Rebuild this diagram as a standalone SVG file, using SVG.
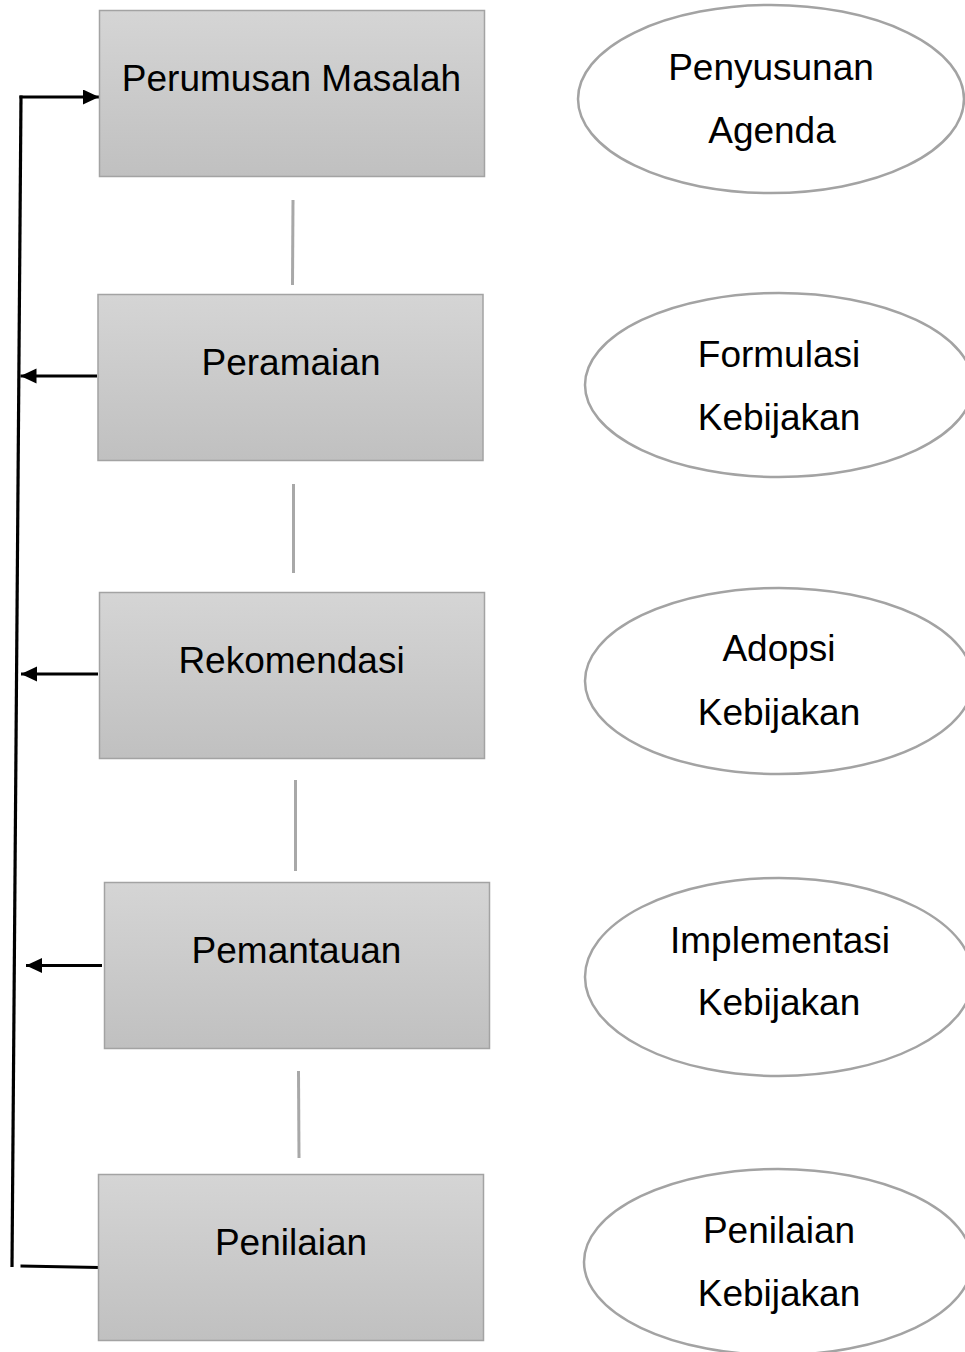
<svg xmlns="http://www.w3.org/2000/svg" width="965" height="1352" viewBox="0 0 965 1352">
  <defs>
    <linearGradient id="boxGrad" x1="0" y1="0" x2="0" y2="1">
      <stop offset="0" stop-color="#d5d5d5"/>
      <stop offset="1" stop-color="#c0c0c0"/>
    </linearGradient>
    <marker id="arrow" markerUnits="userSpaceOnUse" markerWidth="18" markerHeight="16" refX="16" refY="7.5" orient="auto">
      <path d="M0,0 L16,7.5 L0,15 z" fill="#000"/>
    </marker>
  </defs>
  <style>
    .box { fill: url(#boxGrad); stroke: #a3a3a3; stroke-width: 1.5; }
    .oval { fill: #ffffff; stroke: #a3a3a3; stroke-width: 2.5; }
    .lbl { font-family: "Liberation Sans", Arial, sans-serif; font-size: 37px; fill: #000; text-anchor: middle; }
    .gline { stroke: #a8a8a8; stroke-width: 3; fill: none; }
    .bline { stroke: #000; stroke-width: 3.2; fill: none; }
  </style>
  <rect width="965" height="1352" fill="#ffffff"/>

  <g id="connectors">
    <line class="gline" x1="293" y1="200" x2="292.5" y2="285"/>
    <line class="gline" x1="293.5" y1="484" x2="293.5" y2="573"/>
    <line class="gline" x1="295.5" y1="780" x2="295.5" y2="871"/>
    <line class="gline" x1="298.5" y1="1071" x2="299" y2="1158"/>
    <line class="bline" x1="21" y1="95.5" x2="12" y2="1267"/>
    <polyline class="bline" points="19.5,97 99,97" marker-end="url(#arrow)"/>
    <line class="bline" x1="97" y1="376" x2="20.5" y2="376" marker-end="url(#arrow)"/>
    <line class="bline" x1="98" y1="674" x2="21" y2="674" marker-end="url(#arrow)"/>
    <line class="bline" x1="102" y1="965.5" x2="26" y2="965.5" marker-end="url(#arrow)"/>
    <line class="bline" x1="20.5" y1="1266" x2="99" y2="1267.5"/>
  </g>

  <g id="node-perumusan">
    <rect class="box" x="99.5" y="10.5" width="385" height="166"/>
    <text class="lbl" x="291.5" y="91">Perumusan Masalah</text>
  </g>
  <g id="node-peramaian">
    <rect class="box" x="98" y="294.5" width="385" height="166"/>
    <text class="lbl" x="291" y="374.5">Peramaian</text>
  </g>
  <g id="node-rekomendasi">
    <rect class="box" x="99.5" y="592.5" width="385" height="166"/>
    <text class="lbl" x="291.5" y="673">Rekomendasi</text>
  </g>
  <g id="node-pemantauan">
    <rect class="box" x="104.5" y="882.5" width="385" height="166"/>
    <text class="lbl" x="296.5" y="963">Pemantauan</text>
  </g>
  <g id="node-penilaian">
    <rect class="box" x="98.5" y="1174.5" width="385" height="166"/>
    <text class="lbl" x="291" y="1255">Penilaian</text>
  </g>

  <g id="oval-agenda">
    <ellipse class="oval" cx="771" cy="99" rx="193" ry="94"/>
    <text class="lbl" x="771" y="80">Penyusunan</text>
    <text class="lbl" x="772" y="143">Agenda</text>
  </g>
  <g id="oval-formulasi">
    <ellipse class="oval" cx="779" cy="385" rx="194" ry="92"/>
    <text class="lbl" x="779" y="367">Formulasi</text>
    <text class="lbl" x="779" y="430">Kebijakan</text>
  </g>
  <g id="oval-adopsi">
    <ellipse class="oval" cx="779" cy="681" rx="194" ry="93"/>
    <text class="lbl" x="779" y="661">Adopsi</text>
    <text class="lbl" x="779" y="725">Kebijakan</text>
  </g>
  <g id="oval-implementasi">
    <ellipse class="oval" cx="779" cy="977" rx="194" ry="99"/>
    <text class="lbl" x="780" y="953">Implementasi</text>
    <text class="lbl" x="779" y="1015">Kebijakan</text>
  </g>
  <g id="oval-penilaian">
    <ellipse class="oval" cx="778" cy="1262" rx="194" ry="93"/>
    <text class="lbl" x="779" y="1243">Penilaian</text>
    <text class="lbl" x="779" y="1306">Kebijakan</text>
  </g>
</svg>
